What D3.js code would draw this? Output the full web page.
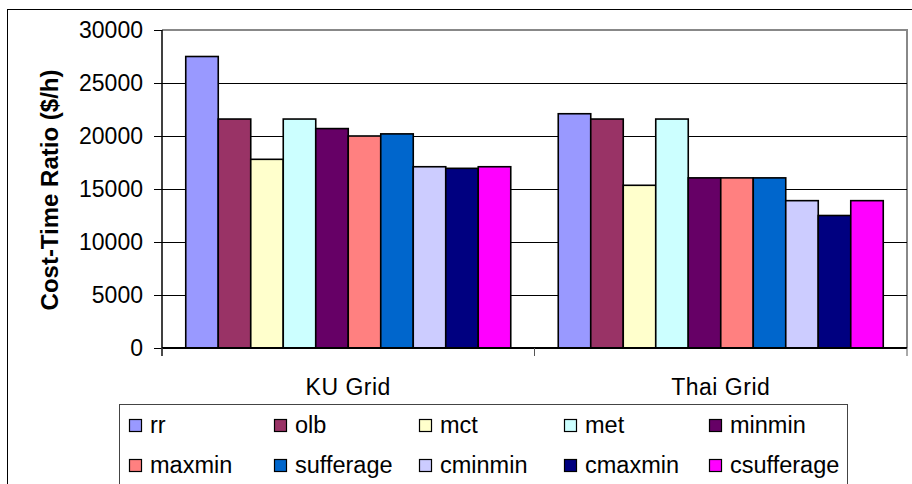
<!DOCTYPE html>
<html lang="en">
<head>
  <meta charset="UTF-8">
  <title>Cost-Time Ratio</title>
  <script src="https://cdn.jsdelivr.net/npm/d3@7"></script>
  <style>
    body { margin: 0; background: #fff; }
    text { font-family: "Liberation Sans", Arial, sans-serif; }
  </style>
</head>
<body>
  <svg id="chart" width="912" height="484"></svg>
  <script>
    // data
    const categories = ['KU Grid', 'Thai Grid'];
    const seriesNames = ['rr', 'olb', 'mct', 'met', 'minmin', 'maxmin', 'sufferage', 'cminmin', 'cmaxmin', 'csufferage'];
    const kuValues = [27500, 21600, 17800, 21600, 20700, 20000, 20200, 17100, 16950, 17100];
    const thaiValues = [22100, 21600, 15350, 21600, 16050, 16050, 16050, 13900, 12500, 13900];
    const yTicks = [0, 5000, 10000, 15000, 20000, 25000, 30000];
    const colors = ['#9999FF', '#993366', '#FFFFCC', '#CCFFFF', '#660066', '#FF8080', '#0066CC', '#CCCCFF', '#000080', '#FF00FF'];

    const valuesByCat = [kuValues, thaiValues];

    const svg = d3.select('#chart');
    const plotL = 162, plotR = 907, plotT = 30, plotB = 348;

    // outer chart border
    svg.append('rect')
      .attr('x', 7.5).attr('y', 9.5)
      .attr('width', 920).attr('height', 500)
      .attr('fill', 'none').attr('stroke', '#000').attr('stroke-width', 1);

    const y = d3.scaleLinear().domain([0, 30000]).range([plotB, plotT]);
    const x0 = d3.scaleBand().domain(categories).range([plotL, plotR])
      .paddingInner(0.1275).paddingOuter(0.06375);
    const x1 = d3.scaleBand().domain(seriesNames).range([0, x0.bandwidth()]);

    // plot area frame (gray top/right)
    svg.append('path')
      .attr('d', `M${plotL},${plotT}H${plotR}V${plotB}`)
      .attr('fill', 'none').attr('stroke', '#888').attr('stroke-width', 2);

    // gridlines
    svg.append('g')
      .selectAll('line')
      .data(yTicks.filter(d => d > 0 && d < 30000))
      .join('line')
      .attr('x1', plotL).attr('x2', plotR)
      .attr('y1', d => Math.round(y(d)) + 0.5).attr('y2', d => Math.round(y(d)) + 0.5)
      .attr('stroke', '#000').attr('stroke-width', 1);

    // bars
    const groups = svg.append('g')
      .selectAll('g')
      .data(categories)
      .join('g')
      .attr('transform', d => `translate(${x0(d)},0)`);

    groups.selectAll('rect')
      .data((c, i) => valuesByCat[i].map((v, j) => ({ name: seriesNames[j], value: v })))
      .join('rect')
      .attr('x', d => x1(d.name))
      .attr('y', d => y(d.value))
      .attr('width', x1.bandwidth())
      .attr('height', d => plotB - y(d.value))
      .attr('fill', (d, j) => colors[j])
      .attr('stroke', '#000')
      .attr('stroke-width', 1.6);

    // y axis
    const yAxis = svg.append('g')
      .attr('transform', `translate(${plotL},0)`)
      .call(d3.axisLeft(y).tickValues(yTicks).tickSize(8).tickPadding(11).tickFormat(d3.format('d')));
    yAxis.select('.domain').attr('d', `M0,${plotT}V${plotB + 8}`).attr('stroke-width', 1.5);
    yAxis.selectAll('.tick line').attr('stroke-width', 1);
    yAxis.selectAll('.tick text')
      .attr('font-size', 23).attr('fill', '#000')
      .attr('font-family', '"Liberation Sans", Arial, sans-serif');

    // x axis
    svg.append('line')
      .attr('x1', plotL).attr('x2', plotR)
      .attr('y1', plotB).attr('y2', plotB)
      .attr('stroke', '#000').attr('stroke-width', 2);
    const sepX = [plotL, x0(categories[1]) - x0.step() * x0.paddingInner() / 2, plotR];
    svg.append('g').selectAll('line')
      .data(sepX)
      .join('line')
      .attr('x1', d => d).attr('x2', d => d)
      .attr('y1', plotB).attr('y2', plotB + 8)
      .attr('stroke', '#555').attr('stroke-width', 1);

    svg.append('g').selectAll('text')
      .data(categories)
      .join('text')
      .attr('x', d => x0(d) + x0.bandwidth() / 2)
      .attr('y', 395)
      .attr('text-anchor', 'middle')
      .attr('font-size', 23)
      .attr('letter-spacing', 0.5)
      .text(d => d);

    // y title
    svg.append('text')
      .attr('transform', `translate(58,${(67 + 313) / 2}) rotate(-90)`)
      .attr('text-anchor', 'middle')
      .attr('font-size', 24)
      .attr('font-weight', 'bold')
      .text('Cost-Time Ratio ($/h)');

    // legend
    svg.append('rect')
      .attr('x', 119.5).attr('y', 404.5)
      .attr('width', 728).attr('height', 100)
      .attr('fill', '#fff').attr('stroke', '#444').attr('stroke-width', 1);

    const legend = svg.append('g').selectAll('g')
      .data(seriesNames)
      .join('g')
      .attr('transform', (d, i) => `translate(${129 + (i % 5) * 145},${i < 5 ? 419 : 459})`);
    legend.append('rect')
      .attr('x', 0.5).attr('y', 0.5)
      .attr('width', 12).attr('height', 12)
      .attr('fill', (d, i) => colors[i])
      .attr('stroke', '#000').attr('stroke-width', 1.2);
    legend.append('text')
      .attr('x', 21).attr('y', 14)
      .attr('font-size', 23.5)
      .text(d => d);
  </script>
</body>
</html>
